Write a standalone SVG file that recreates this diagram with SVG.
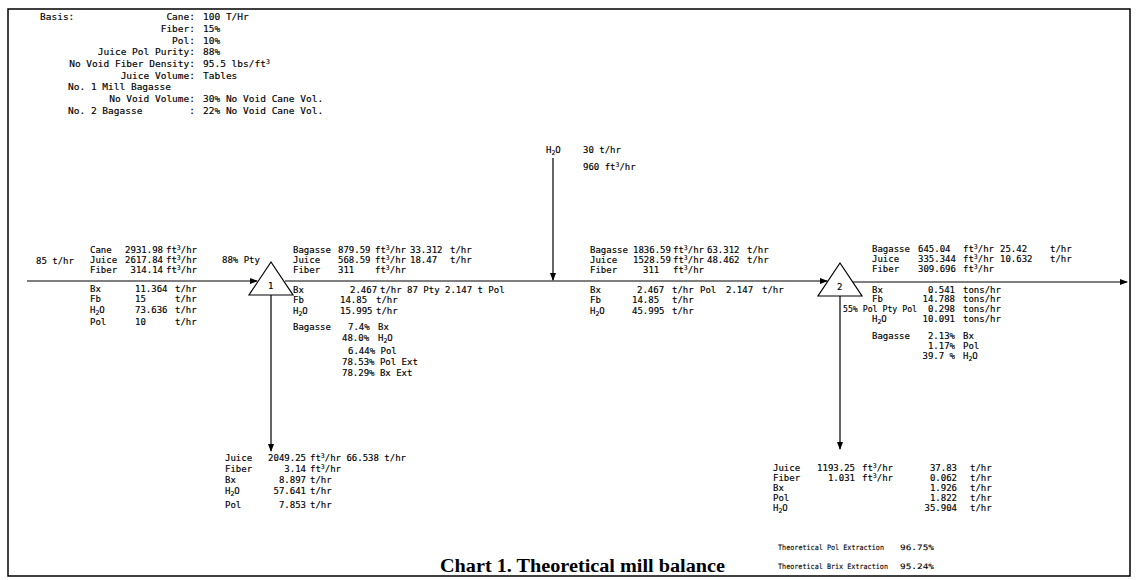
<svg xmlns="http://www.w3.org/2000/svg" width="1138" height="580" viewBox="0 0 1138 580" xml:space="preserve">
<style>
  text { font-family: "DejaVu Sans Mono", "Liberation Mono", monospace; font-size: 9px; fill: #000; stroke: #000; stroke-width: 0.15; }
  .b { font-size: 9.5px; }
  .sm { font-size: 7.5px; stroke-width: 0.1; }
  .sup { font-size: 6.5px; baseline-shift: 40%; }
  .sub { font-size: 6.5px; baseline-shift: -30%; }
  .end { text-anchor: end; }
  .title { font-family: "Liberation Serif", "Times New Roman", serif; font-weight: bold; font-size: 18px; stroke: none; }
  .ln { stroke: #000; stroke-width: 1.2; fill: none; }
  .mill { stroke: #000; stroke-width: 1.2; fill: #fff; }
</style>
<defs>
  <marker id="ah" markerWidth="8" markerHeight="6" refX="7" refY="3" orient="auto" markerUnits="userSpaceOnUse">
    <path d="M0,0 L8,3 L0,6 Z" fill="#000"/>
  </marker>
</defs>
<rect x="0" y="0" width="1138" height="580" fill="#fff"/>
<rect x="8" y="9" width="1122" height="567" fill="none" stroke="#000" stroke-width="1.5"/>

<g id="basis">
  <text class="b" x="40" y="20">Basis:</text>
  <text class="b end" x="195" y="20">Cane:</text><text class="b" x="203" y="20">100 T/Hr</text>
  <text class="b end" x="195" y="32">Fiber:</text><text class="b" x="203" y="32">15%</text>
  <text class="b end" x="195" y="43.5">Pol:</text><text class="b" x="203" y="43.5">10%</text>
  <text class="b end" x="195" y="55">Juice Pol Purity:</text><text class="b" x="203" y="55">88%</text>
  <text class="b end" x="195" y="67">No Void Fiber Density:</text><text class="b" x="203" y="67">95.5 lbs/ft<tspan class="sup">3</tspan></text>
  <text class="b end" x="195" y="78.5">Juice Volume:</text><text class="b" x="203" y="78.5">Tables</text>
  <text class="b" x="68" y="90">No. 1 Mill Bagasse</text>
  <text class="b end" x="195" y="102">No Void Volume:</text><text class="b" x="203" y="102">30% No Void Cane Vol.</text>
  <text class="b" x="68" y="113.5">No. 2 Bagasse</text><text class="b end" x="195" y="113.5">:</text><text class="b" x="203" y="113.5">22% No Void Cane Vol.</text>
</g>

<g id="connectors">
  <line class="ln" x1="27" y1="281" x2="257" y2="281" marker-end="url(#ah)"/>
  <line class="ln" x1="285" y1="281" x2="827" y2="281" marker-end="url(#ah)"/>
  <line class="ln" x1="853" y1="282" x2="1127" y2="282" marker-end="url(#ah)"/>
  <line class="ln" x1="553" y1="158" x2="553" y2="280" marker-end="url(#ah)"/>
  <line class="ln" x1="271" y1="295" x2="271" y2="451" marker-end="url(#ah)"/>
  <line class="ln" x1="840" y1="296" x2="840" y2="449" marker-end="url(#ah)"/>
</g>

<g id="mill1">
  <polygon class="mill" points="271,262 293,295 249,295"/>
  <text x="268" y="289">1</text>
</g>
<g id="mill2">
  <polygon class="mill" points="840,263 862,296 818,296"/>
  <text x="837" y="290">2</text>
</g>

<g id="feed">
  <text x="36" y="264">85 t/hr</text>
  <text x="90" y="253">Cane</text><text class="end" x="163" y="253">2931.98</text><text x="166" y="253">ft<tspan class="sup">3</tspan>/hr</text>
  <text x="90" y="263">Juice</text><text class="end" x="163" y="263">2617.84</text><text x="166" y="263">ft<tspan class="sup">3</tspan>/hr</text><text x="222" y="263">88% Pty</text>
  <text x="90" y="273">Fiber</text><text class="end" x="163" y="273">314.14</text><text x="166" y="273">ft<tspan class="sup">3</tspan>/hr</text>
  <text x="90" y="292">Bx</text><text x="135" y="292">11.364</text><text x="175" y="292">t/hr</text>
  <text x="90" y="302">Fb</text><text x="135" y="302">15</text><text x="175" y="302">t/hr</text>
  <text x="90" y="313">H<tspan class="sub">2</tspan>O</text><text x="135" y="313">73.636</text><text x="175" y="313">t/hr</text>
  <text x="90" y="325">Pol</text><text x="135" y="325">10</text><text x="175" y="325">t/hr</text>
</g>

<g id="bagasse1">
  <text x="293" y="253">Bagasse</text><text x="338" y="253">879.59</text><text x="375" y="253">ft<tspan class="sup">3</tspan>/hr</text><text x="410" y="253">33.312</text><text x="450" y="253">t/hr</text>
  <text x="293" y="263">Juice</text><text x="338" y="263">568.59</text><text x="375" y="263">ft<tspan class="sup">3</tspan>/hr</text><text x="410" y="263">18.47</text><text x="450" y="263">t/hr</text>
  <text x="293" y="273">Fiber</text><text x="338" y="273">311</text><text x="375" y="273">ft<tspan class="sup">3</tspan>/hr</text>
  <text x="293" y="293">Bx</text><text x="350" y="293">2.467</text><text x="380" y="293">t/hr 87 Pty 2.147 t Pol</text>
  <text x="293" y="303">Fb</text><text x="340" y="303">14.85</text><text x="376" y="303">t/hr</text>
  <text x="293" y="314">H<tspan class="sub">2</tspan>O</text><text x="340" y="314">15.995</text><text x="376" y="314">t/hr</text>
  <text x="293" y="330">Bagasse</text><text x="348" y="330">7.4%</text><text x="378" y="330">Bx</text>
  <text x="342" y="341">48.0%</text><text x="378" y="341">H<tspan class="sub">2</tspan>O</text>
  <text x="348" y="354">6.44% Pol</text>
  <text x="342" y="365">78.53% Pol Ext</text>
  <text x="342" y="376">78.29% Bx  Ext</text>
</g>

<g id="water">
  <text x="546" y="153">H<tspan class="sub">2</tspan>O</text><text x="583" y="153">30 t/hr</text>
  <text x="583" y="170">960 ft<tspan class="sup">3</tspan>/hr</text>
</g>

<g id="bagasse1w">
  <text x="590" y="253">Bagasse</text><text x="633" y="253">1836.59</text><text x="673" y="253">ft<tspan class="sup">3</tspan>/hr</text><text x="707" y="253">63.312</text><text x="747" y="253">t/hr</text>
  <text x="590" y="263">Juice</text><text x="633" y="263">1528.59</text><text x="673" y="263">ft<tspan class="sup">3</tspan>/hr</text><text x="707" y="263">48.462</text><text x="747" y="263">t/hr</text>
  <text x="590" y="273">Fiber</text><text x="643" y="273">311</text><text x="673" y="273">ft<tspan class="sup">3</tspan>/hr</text>
  <text x="590" y="293">Bx</text><text x="637" y="293">2.467</text><text x="672" y="293">t/hr</text><text x="700" y="293">Pol</text><text x="726" y="293">2.147</text><text x="762" y="293">t/hr</text>
  <text x="590" y="303">Fb</text><text x="632" y="303">14.85</text><text x="672" y="303">t/hr</text>
  <text x="590" y="314">H<tspan class="sub">2</tspan>O</text><text x="632" y="314">45.995</text><text x="672" y="314">t/hr</text>
</g>

<g id="bagasse2">
  <text x="872" y="252">Bagasse</text><text x="918" y="252">645.04</text><text x="963" y="252">ft<tspan class="sup">3</tspan>/hr</text><text x="1000" y="252">25.42</text><text x="1050" y="252">t/hr</text>
  <text x="872" y="262">Juice</text><text x="918" y="262">335.344</text><text x="963" y="262">ft<tspan class="sup">3</tspan>/hr</text><text x="1000" y="262">10.632</text><text x="1050" y="262">t/hr</text>
  <text x="872" y="272">Fiber</text><text x="918" y="272">309.696</text><text x="963" y="272">ft<tspan class="sup">3</tspan>/hr</text>
  <text x="872" y="293">Bx</text><text class="end" x="955" y="293">0.541</text><text x="963" y="293">tons/hr</text>
  <text x="872" y="302">Fb</text><text class="end" x="955" y="302">14.788</text><text x="963" y="302">tons/hr</text>
  <text x="843" y="312" textLength="74" lengthAdjust="spacingAndGlyphs">55% Pol Pty Pol</text><text class="end" x="955" y="312">0.298</text><text x="963" y="312">tons/hr</text>
  <text x="872" y="322">H<tspan class="sub">2</tspan>O</text><text class="end" x="955" y="322">10.091</text><text x="963" y="322">tons/hr</text>
  <text x="872" y="339">Bagasse</text><text class="end" x="955" y="339">2.13%</text><text x="963" y="339">Bx</text>
  <text class="end" x="955" y="349">1.17%</text><text x="963" y="349">Pol</text>
  <text class="end" x="955" y="359">39.7 %</text><text x="963" y="359">H<tspan class="sub">2</tspan>O</text>
</g>

<g id="juice1">
  <text x="225" y="461">Juice</text><text class="end" x="306" y="461">2049.25</text><text x="310" y="461">ft<tspan class="sup">3</tspan>/hr 66.538 t/hr</text>
  <text x="225" y="472">Fiber</text><text class="end" x="306" y="472">3.14</text><text x="310" y="472">ft<tspan class="sup">3</tspan>/hr</text>
  <text x="225" y="483">Bx</text><text class="end" x="306" y="483">8.897</text><text x="310" y="483">t/hr</text>
  <text x="225" y="494">H<tspan class="sub">2</tspan>O</text><text class="end" x="306" y="494">57.641</text><text x="310" y="494">t/hr</text>
  <text x="225" y="508">Pol</text><text class="end" x="306" y="508">7.853</text><text x="310" y="508">t/hr</text>
</g>

<g id="juice2">
  <text x="773" y="471">Juice</text><text class="end" x="855" y="471">1193.25</text><text x="862" y="471">ft<tspan class="sup">3</tspan>/hr</text><text class="end" x="957" y="471">37.83</text><text x="970" y="471">t/hr</text>
  <text x="773" y="481">Fiber</text><text class="end" x="855" y="481">1.031</text><text x="862" y="481">ft<tspan class="sup">3</tspan>/hr</text><text class="end" x="957" y="481">0.062</text><text x="970" y="481">t/hr</text>
  <text x="773" y="491">Bx</text><text class="end" x="957" y="491">1.926</text><text x="970" y="491">t/hr</text>
  <text x="773" y="501">Pol</text><text class="end" x="957" y="501">1.822</text><text x="970" y="501">t/hr</text>
  <text x="773" y="511">H<tspan class="sub">2</tspan>O</text><text class="end" x="957" y="511">35.904</text><text x="970" y="511">t/hr</text>
</g>

<g id="extraction">
  <text class="sm" x="778" y="550" textLength="106" lengthAdjust="spacingAndGlyphs">Theoretical Pol Extraction</text><text class="sm" x="900" y="550" textLength="34" lengthAdjust="spacingAndGlyphs">96.75%</text>
  <text class="sm" x="778" y="569" textLength="110" lengthAdjust="spacingAndGlyphs">Theoretical Brix Extraction</text><text class="sm" x="900" y="569" textLength="34" lengthAdjust="spacingAndGlyphs">95.24%</text>
</g>

<g id="caption">
  <text class="title" x="440" y="572" textLength="285" lengthAdjust="spacingAndGlyphs">Chart 1. Theoretical mill balance</text>
</g>
</svg>
